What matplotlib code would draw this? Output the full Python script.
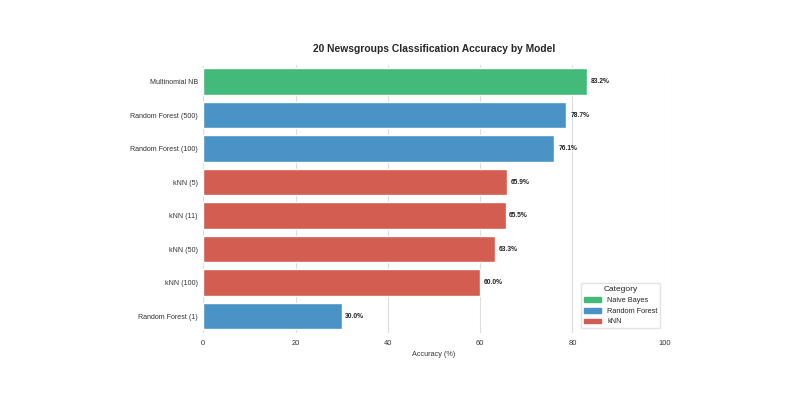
import matplotlib
matplotlib.use("Agg")
import matplotlib.pyplot as plt
import seaborn as sns
from matplotlib.patches import Patch

models = ["Multinomial NB", "Random Forest (500)", "Random Forest (100)", "kNN (5)",
          "kNN (11)", "kNN (50)", "kNN (100)", "Random Forest (1)"]
accuracy = [83.2, 78.7, 76.1, 65.9, 65.5, 63.3, 60.0, 30.0]
category = ["Naive Bayes", "Random Forest", "Random Forest", "kNN",
            "kNN", "kNN", "kNN", "Random Forest"]
cat_colors = {"Naive Bayes": "#43b97a", "Random Forest": "#4a93c7", "kNN": "#d35d50"}

sns.set_style("whitegrid")
plt.rcParams["font.family"] = ["Liberation Sans", "DejaVu Sans"]

fig = plt.figure(figsize=(8, 4), dpi=100)
ax = fig.add_axes([0.254, 0.168, 0.577, 0.67])

ypos = list(range(len(models)))
ax.barh(ypos, accuracy, height=0.8, color=[cat_colors[c] for c in category])
for y, v in zip(ypos, accuracy):
    ax.text(v + 0.8, y, f"{v:.1f}%", va="center", ha="left", fontsize=4.8, fontweight="bold", color="#222222")

ax.set_yticks(ypos)
ax.set_yticklabels(models, fontsize=5.1, color="#333333")
ax.set_ylim(7.5, -0.5)
ax.set_xlim(0, 100)
ax.set_xticks([0, 20, 40, 60, 80, 100])
ax.tick_params(axis="x", labelsize=5.4, colors="#333333", length=0, pad=5)
ax.tick_params(axis="y", length=0, pad=4)
ax.set_xlabel("Accuracy (%)", fontsize=5.2, color="#333333", labelpad=3)
ax.grid(axis="y", visible=False)
ax.grid(axis="x", color="#dddddd", linewidth=0.8)
for s in ax.spines.values():
    s.set_visible(False)

ax.set_title("20 Newsgroups Classification Accuracy by Model", fontsize=7.4, fontweight="bold", pad=9)

handles = [Patch(color=cat_colors[c], label=c) for c in ["Naive Bayes", "Random Forest", "kNN"]]
leg = ax.legend(handles=handles, title="Category", loc="lower right", fontsize=5.3, title_fontsize=6,
                frameon=True, handlelength=2.4, handleheight=0.6, borderaxespad=0.6)
leg.get_frame().set_edgecolor("#dddddd")

fig.savefig("out.png", dpi=100)
